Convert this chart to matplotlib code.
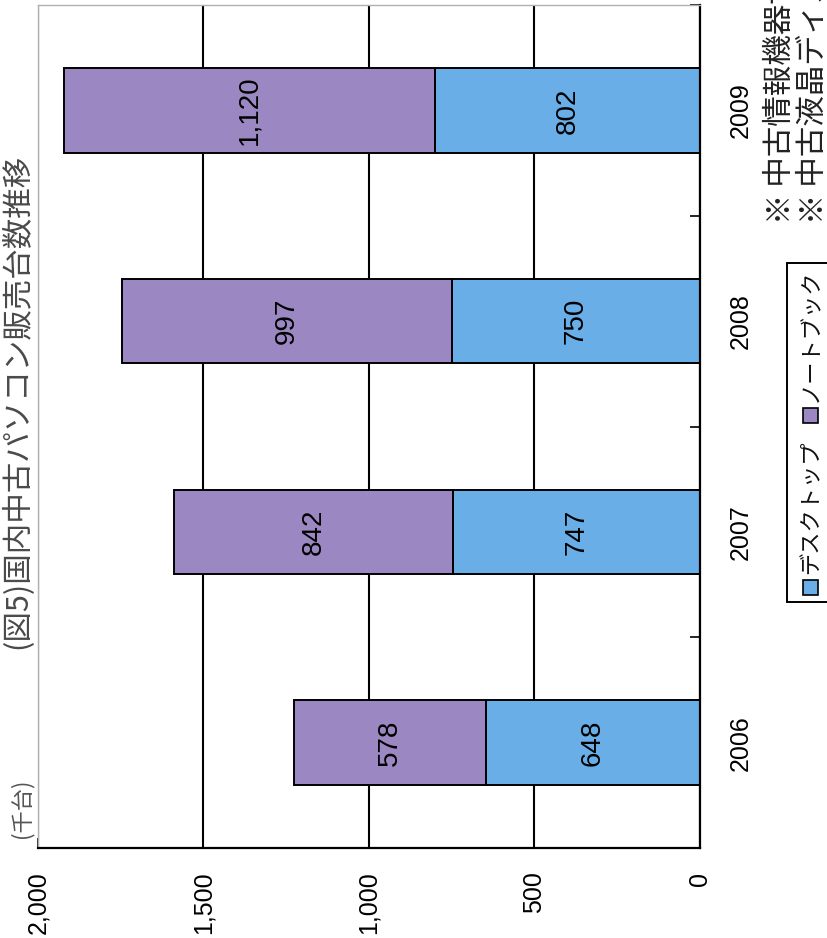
import matplotlib.pyplot as plt
from matplotlib.patches import Rectangle

# 国内中古パソコン販売台数 (千台)
years = ['2006', '2007', '2008', '2009']
desktop = [648, 747, 750, 802]
notebook = [578, 842, 997, 1120]
series_names = ['デスクトップ', 'ノートブック']
value_ticks = [0, 500, 1000, 1500, 2000]

blue = '#6aaee8'
purple = '#9b88c2'
num_font = ['Liberation Sans', 'DejaVu Sans']
jp_font = ['Noto Sans CJK JP', 'DejaVu Sans']

W, H = 827, 938
fig = plt.figure(figsize=(W / 100, H / 100), dpi=100)

def fx(px):
    return px / W

def fy(py):
    return 1 - py / H

# the page is turned on its side: values run right-to-left, years bottom-to-top
ax = fig.add_axes([fx(38), fy(848), fx(662), 843 / H])
pos = list(range(len(years)))

ax.barh(pos, desktop, height=0.4, color=blue, edgecolor='black', linewidth=1.4)
ax.barh(pos, notebook, left=desktop, height=0.4, color=purple,
        edgecolor='black', linewidth=1.4)

for i in pos:
    ax.text(desktop[i] / 2, i, f'{desktop[i]:,}', rotation=90, ha='center',
            va='center', fontsize=20, family=num_font)
    ax.text(desktop[i] + notebook[i] / 2, i, f'{notebook[i]:,}', rotation=90,
            ha='center', va='center', fontsize=20, family=num_font)

ax.set_xlim(2000, 0)
ax.set_ylim(-0.5, 3.5)

ax.set_xticks(value_ticks)
ax.set_xticklabels([f'{v:,}' for v in value_ticks], family=num_font, fontsize=18)
ax.tick_params(axis='x', direction='in', length=7, width=1.2, pad=17,
               labelrotation=90)
ax.xaxis.grid(True, color='black', linewidth=1.5)
ax.set_axisbelow(True)

ax.yaxis.tick_right()
ax.set_yticks(pos)
ax.set_yticklabels(years, family=num_font, fontsize=18)
ax.set_yticks([p - 0.5 for p in pos] + [pos[-1] + 0.5], minor=True)
ax.tick_params(axis='y', which='major', length=0, pad=21, labelrotation=90)
ax.tick_params(axis='y', which='minor', direction='in', length=7, width=1.2)
for lab in ax.get_yticklabels():
    lab.set_verticalalignment('center')

for side in ['left', 'top']:
    ax.spines[side].set_color('#b0b0b0')
    ax.spines[side].set_linewidth(1.0)
for side in ['right', 'bottom']:
    ax.spines[side].set_color('black')
    ax.spines[side].set_linewidth(1.6)

# title and unit
fig.text(fx(17), fy(401), '(図5)国内中古パソコン販売台数推移', rotation=90,
         ha='center', va='center', fontsize=22, family=jp_font, color='#4a4a4a')
fig.text(fx(22), fy(808), '(千台)', rotation=90, ha='center', va='center',
         fontsize=16, family=jp_font, color='#555555')

# notes (run past the edge of the page)
fig.text(fx(780), fy(224), '※ 中古情報機器協会調べ', rotation=90, ha='center',
         va='bottom', fontsize=22, family=jp_font, color='#222222')
fig.text(fx(813), fy(224), '※ 中古液晶ディスプレイを除く', rotation=90,
         ha='center', va='bottom', fontsize=22, family=jp_font, color='#222222')

# legend box, drawn sideways
fig.add_artist(Rectangle((fx(787), fy(602)), fx(120), (602 - 263) / H,
                         transform=fig.transFigure, facecolor='white',
                         edgecolor='black', linewidth=1.4))
for color, name, start in [(blue, series_names[0], 595), (purple, series_names[1], 423)]:
    fig.add_artist(Rectangle((fx(803), fy(start)), fx(15), 15 / H,
                             transform=fig.transFigure, facecolor=color,
                             edgecolor='black', linewidth=1.2))
    fig.text(fx(811), fy(start - 21), name, rotation=90, ha='center',
             va='bottom', fontsize=16, family=jp_font, color='#111111')

fig.savefig('out.png', dpi=100)
